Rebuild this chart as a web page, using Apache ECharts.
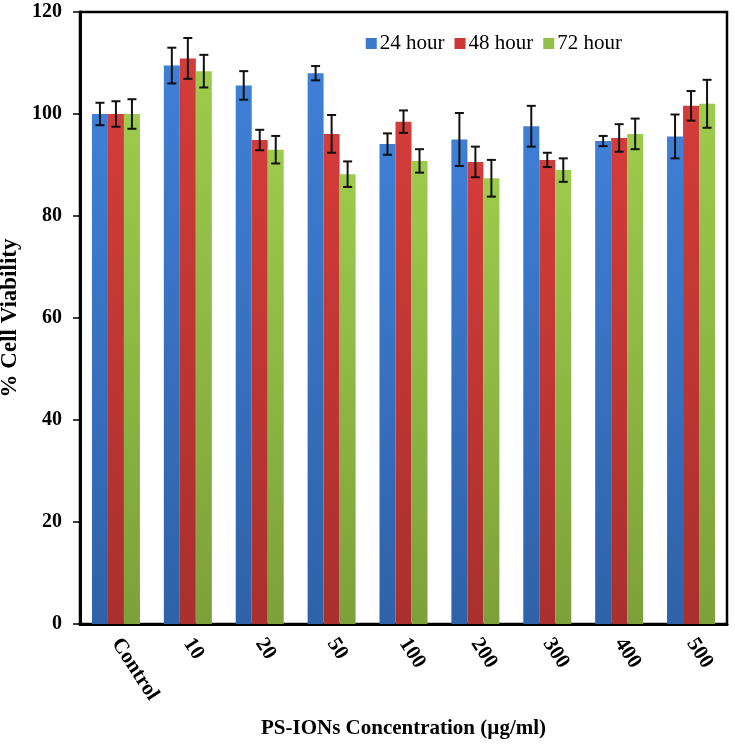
<!DOCTYPE html>
<html>
<head>
<meta charset="utf-8">
<script src="https://cdn.jsdelivr.net/npm/echarts@6/dist/echarts.min.js"></script>
<style>
  html, body { margin: 0; padding: 0; background: #fff; }
  #main { width: 735px; height: 747px; }
</style>
</head>
<body>
<div id="main"></div>
<script>
// 数据
const categories = ['Control', '10', '20', '50', '100', '200', '300', '400', '500'];
const seriesNames = ['24 hour', '48 hour', '72 hour'];
const values24 = [100, 109.5, 105.6, 108.0, 94.1, 95.0, 97.6, 94.7, 95.6];
const values48 = [100, 110.9, 94.9, 96.1, 98.5, 90.6, 91.0, 95.3, 101.6];
const values72 = [100, 108.4, 93.0, 88.2, 90.8, 87.4, 89.0, 96.1, 102.0];
const err24 = [2.2, 3.5, 2.8, 1.4, 2.1, 5.2, 4.0, 1.0, 4.3];
const err48 = [2.5, 4.0, 2.0, 3.7, 2.2, 3.0, 1.4, 2.7, 2.9];
const err72 = [2.9, 3.2, 2.7, 2.5, 2.3, 3.6, 2.3, 3.0, 4.7];
const yTicks = [0, 20, 40, 60, 80, 100, 120];

const BAR_W = 16;
const serif = '"Liberation Serif", "DejaVu Serif", serif';

const myChart = echarts.init(document.getElementById('main'));

function grad(top, bottom) {
  return new echarts.graphic.LinearGradient(0, 0, 0, 1, [
    { offset: 0, color: top },
    { offset: 1, color: bottom }
  ]);
}
const colors = [
  grad('#3f7fd6', '#2f62a8'),
  grad('#d33c3a', '#a8302e'),
  grad('#9dcb4c', '#7ea03c')
];
const legendColors = ['#3a78cc', '#c93634', '#93c048'];

// 误差线
function errorSeries(values, errs, idx) {
  const data = values.map((v, i) => [i, v - errs[i], v + errs[i]]);
  return {
    type: 'custom',
    name: 'err' + idx,
    z: 10,
    silent: true,
    data: data,
    renderItem: function (params, api) {
      const x = api.value(0);
      const lo = api.coord([x, api.value(1)]);
      const hi = api.coord([x, api.value(2)]);
      const cx = lo[0] + (idx - 1) * BAR_W;
      const cap = 4.5;
      const style = { stroke: '#111', lineWidth: 2 };
      return {
        type: 'group',
        children: [
          { type: 'line', shape: { x1: cx, y1: hi[1], x2: cx, y2: lo[1] }, style: style },
          { type: 'line', shape: { x1: cx - cap, y1: hi[1], x2: cx + cap, y2: hi[1] }, style: style },
          { type: 'line', shape: { x1: cx - cap, y1: lo[1], x2: cx + cap, y2: lo[1] }, style: style }
        ]
      };
    }
  };
}

const allValues = [values24, values48, values72];
const allErrs = [err24, err48, err72];

const barSeries = seriesNames.map((name, i) => ({
  name: name,
  type: 'bar',
  barWidth: BAR_W,
  barGap: '0%',
  data: allValues[i],
  itemStyle: { color: colors[i] }
}));

const option = {
  animation: false,
  backgroundColor: '#fff',
  grid: {
    left: 80, right: 8, top: 12, bottom: 123,
    outerBoundsMode: 'none',
    show: true, borderColor: '#000', borderWidth: 2.5, containLabel: false
  },
  legend: {
    data: seriesNames.map((n, i) => ({ name: n, itemStyle: { color: legendColors[i] } })),
    top: 28,
    right: 108,
    itemWidth: 11,
    itemHeight: 11,
    itemGap: 10,
    icon: 'rect',
    textStyle: { fontFamily: serif, fontSize: 21, color: '#000', padding: [0, 0, 0, -2] }
  },
  xAxis: {
    type: 'category',
    data: categories,
    name: 'PS-IONs Concentration (µg/ml)',
    nameLocation: 'middle',
    nameGap: 94,
    nameTextStyle: { fontFamily: serif, fontSize: 21, fontWeight: 'bold', color: '#000' },
    axisLine: { lineStyle: { color: '#000', width: 3 } },
    axisTick: { show: false },
    axisLabel: {
      rotate: -57,
      margin: 16,
      fontFamily: serif, fontSize: 21, fontWeight: 'bold', color: '#000'
    }
  },
  yAxis: {
    type: 'value',
    min: 0, max: 120, interval: 20,
    name: '% Cell Viability',
    nameLocation: 'middle',
    nameGap: 52,
    nameTextStyle: { fontFamily: serif, fontSize: 23, fontWeight: 'bold', color: '#000' },
    splitLine: { show: false },
    axisLine: { show: true, lineStyle: { color: '#000', width: 3 } },
    axisTick: { show: true, length: 7, lineStyle: { color: '#000', width: 1.5 } },
    axisLabel: {
      margin: 18,
      fontFamily: serif, fontSize: 20, fontWeight: 'bold', color: '#000',
      formatter: function (v) { return yTicks.indexOf(v) >= 0 ? String(v) : ''; }
    }
  },
  series: barSeries.concat(allValues.map((v, i) => errorSeries(v, allErrs[i], i)))
};

myChart.setOption(option);
</script>
</body>
</html>
